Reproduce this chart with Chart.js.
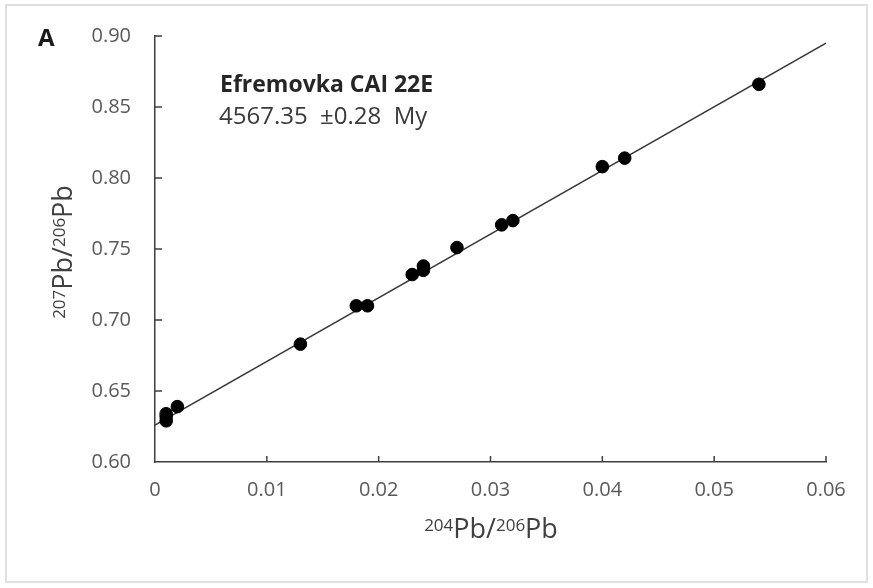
<!DOCTYPE html>
<html>
<head>
<meta charset="utf-8">
<script src="https://cdn.jsdelivr.net/npm/chart.js@4.4.0/dist/chart.umd.min.js"></script>
<style>
  html, body { margin: 0; padding: 0; background: #fff; }
  #wrap { width: 873px; height: 588px; }
</style>
</head>
<body>
<div id="wrap"><canvas id="isoChart" width="873" height="588"></canvas></div>
<script>
// DATA
const ratio204 = [0.001, 0.001, 0.001, 0.002, 0.013, 0.018, 0.019, 0.023, 0.024, 0.024, 0.027, 0.031, 0.032, 0.040, 0.042, 0.054];
const ratio207 = [0.629, 0.632, 0.634, 0.639, 0.683, 0.710, 0.710, 0.732, 0.735, 0.738, 0.751, 0.767, 0.770, 0.808, 0.814, 0.866];
const fitX = [0, 0.06];
const fitY = [0.626, 0.895];
const xTicks = [0, 0.01, 0.02, 0.03, 0.04, 0.05, 0.06];
const yTicks = [0.60, 0.65, 0.70, 0.75, 0.80, 0.85, 0.90];
const panelLabel = 'A';
const sampleName = 'Efremovka CAI 22E';
const ageText = '4567.35  \u00b10.28  My';

const FONT = '"Open Sans", "Liberation Sans", sans-serif';

// draw "207Pb/206Pb" style text with real superscripts
function drawIsoLabel(ctx, parts, cx, cy) {
    let w = 0;
    parts.forEach(p => {
        ctx.font = (p.sup ? '17px ' : '27px ') + FONT;
        p.w = ctx.measureText(p.t).width;
        w += p.w;
    });
    let x = cx - w / 2;
    ctx.textAlign = 'left';
    ctx.textBaseline = 'alphabetic';
    parts.forEach(p => {
        ctx.font = (p.sup ? '17px ' : '27px ') + FONT;
        ctx.fillText(p.t, x, p.sup ? cy - 7 : cy);
        x += p.w;
    });
}

const extras = {
    id: 'extras',
    beforeDraw(chart) {
        const ctx = chart.ctx;
        ctx.save();
        ctx.fillStyle = '#fff';
        ctx.fillRect(0, 0, chart.width, chart.height);
        ctx.strokeStyle = '#e0e0e0';
        ctx.lineWidth = 2;
        ctx.strokeRect(6, 5, chart.width - 12, chart.height - 11);
        ctx.restore();
    },
    afterDraw(chart) {
        const ctx = chart.ctx;
        const xs = chart.scales.x, ys = chart.scales.y;
        const area = chart.chartArea;
        ctx.save();
        // inward tick marks
        ctx.strokeStyle = '#3f3f3f';
        ctx.lineWidth = 1.5;
        ctx.beginPath();
        xs.ticks.forEach(t => {
            if (t.value === 0) return;
            const px = xs.getPixelForValue(t.value);
            ctx.moveTo(px, area.bottom);
            ctx.lineTo(px, area.bottom - 6);
        });
        ys.ticks.forEach(t => {
            if (t.value === 0.6) return;
            const py = ys.getPixelForValue(t.value);
            ctx.moveTo(area.left, py);
            ctx.lineTo(area.left + 7, py);
        });
        ctx.stroke();

        // axis titles
        ctx.fillStyle = '#404040';
        drawIsoLabel(ctx, [{t: '204', sup: true}, {t: 'Pb/', sup: false}, {t: '206', sup: true}, {t: 'Pb', sup: false}],
            491, 538);
        ctx.save();
        ctx.translate(72, 252);
        ctx.rotate(-Math.PI / 2);
        drawIsoLabel(ctx, [{t: '207', sup: true}, {t: 'Pb/', sup: false}, {t: '206', sup: true}, {t: 'Pb', sup: false}], 0, 0);
        ctx.restore();

        // panel letter and annotation
        ctx.textAlign = 'left';
        ctx.textBaseline = 'alphabetic';
        ctx.fillStyle = '#1a1a1a';
        ctx.font = 'bold 24px ' + FONT;
        ctx.fillText(panelLabel, 38, 46);
        ctx.fillStyle = '#262626';
        ctx.font = 'bold 23px ' + FONT;
        ctx.fillText(sampleName, 220, 92);
        ctx.fillStyle = '#3a3a3a';
        ctx.font = '24px ' + FONT;
        ctx.fillText(ageText, 219, 124);
        ctx.restore();
    }
};

const ctx = document.getElementById('isoChart').getContext('2d');

new Chart(ctx, {
    type: 'scatter',
    data: {
        datasets: [
            {
                label: 'samples',
                data: ratio204.map((x, i) => ({x: x, y: ratio207[i]})),
                backgroundColor: '#000',
                borderColor: '#000',
                pointRadius: 6.3,
                pointHoverRadius: 6.3
            },
            {
                label: 'isochron',
                type: 'line',
                data: fitX.map((x, i) => ({x: x, y: fitY[i]})),
                borderColor: '#383838',
                borderWidth: 1.6,
                pointRadius: 0,
                fill: false
            }
        ]
    },
    options: {
        responsive: false,
        animation: false,
        events: [],
        layout: { padding: { left: 0, top: 35, right: 47, bottom: 0 } },
        plugins: {
            legend: { display: false },
            tooltip: { enabled: false }
        },
        scales: {
            x: {
                type: 'linear',
                min: xTicks[0],
                max: xTicks[xTicks.length - 1],
                afterBuildTicks: s => { s.ticks = xTicks.map(v => ({value: v})); },
                afterFit: s => { s.height = 126; },
                grid: { display: false, drawTicks: false },
                border: { display: true, color: '#3f3f3f', width: 1.5 },
                ticks: {
                    padding: 16,
                    color: '#595959',
                    font: { family: FONT, size: 20 },
                    maxRotation: 0,
                    callback: v => v === 0 ? '0' : v.toFixed(2)
                }
            },
            y: {
                type: 'linear',
                min: yTicks[0],
                max: yTicks[yTicks.length - 1],
                afterBuildTicks: s => { s.ticks = yTicks.map(v => ({value: v})); },
                afterFit: s => { s.width = 155; },
                grid: { display: false, drawTicks: false },
                border: { display: true, color: '#3f3f3f', width: 1.5 },
                ticks: {
                    padding: 24,
                    color: '#595959',
                    font: { family: FONT, size: 20 },
                    callback: v => v.toFixed(2)
                }
            }
        }
    },
    plugins: [extras]
});
</script>
</body>
</html>
